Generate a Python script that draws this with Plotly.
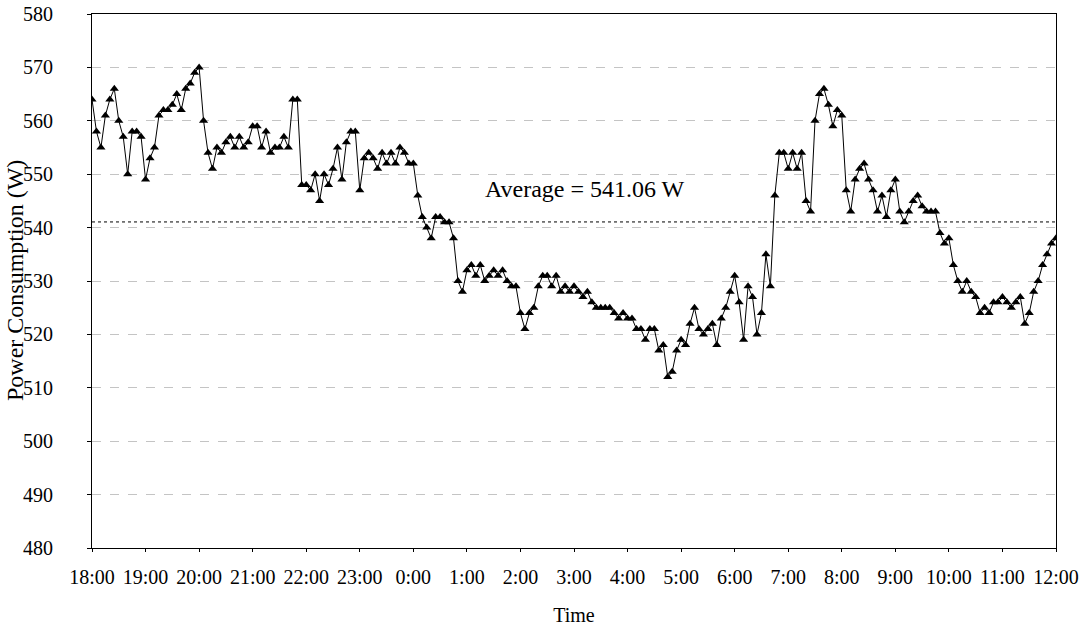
import plotly.graph_objects as go

# ---- data (5-minute readings, 18:00 -> 12:00) ----
time_labels = ["18:00", "19:00", "20:00", "21:00", "22:00", "23:00", "0:00",
               "1:00", "2:00", "3:00", "4:00", "5:00", "6:00", "7:00", "8:00",
               "9:00", "10:00", "11:00", "12:00"]

power_w = [
    564, 558, 555, 561, 564, 566, 560, 557, 550, 558, 558, 557, 549, 553, 555, 561,
    562, 562, 563, 565, 562, 566, 567, 569, 570,
    560, 554, 551, 555, 554, 556, 557, 555, 557, 555, 556, 559, 559, 555, 558, 554,
    555, 555, 557, 555, 564, 564, 548,
    548, 547, 550, 545, 550, 548, 551, 555, 549, 556, 558, 558, 547, 553, 554, 553,
    551, 554, 552, 554, 552, 555,
    554, 552, 552, 546, 542, 540, 538, 542, 542, 541, 541, 538, 530, 528, 532, 533,
    531, 533, 530, 531, 532, 531, 532, 530,
    529, 529, 524, 521, 524, 525, 529, 531, 531, 529, 531, 528, 529, 528, 529, 528,
    527, 528, 526, 525, 525, 525, 525, 524,
    523, 524, 523, 523, 521, 521, 519, 521, 521, 517, 518, 512, 513, 517, 519, 518,
    522, 525, 521, 520, 521, 522, 518, 523,
    525, 528, 531, 526, 519, 529, 527, 520, 524, 535, 529, 546, 554, 554, 551, 554,
    551, 554, 545, 543, 560, 565, 566, 563, 559, 562, 561,
    547, 543, 549, 551, 552, 549, 547, 543, 546, 542, 547, 549, 543, 541, 543, 545,
    546, 544, 543, 543,
    543, 539, 537, 538, 533, 530, 528, 530, 528, 527, 524, 525, 524, 526, 526, 527,
    526, 525, 526, 527, 522, 524, 528, 530, 533, 535, 537, 538,
]

interval_minutes = 5
average_w = 541.06
y_ticks = [480, 490, 500, 510, 520, 530, 540, 550, 560, 570, 580]

x_hours = [i * interval_minutes / 60 for i in range(len(power_w))]
hour_ticks = list(range(len(time_labels)))

FONT = "Liberation Serif, Times New Roman, serif"

fig = go.Figure()
fig.add_trace(go.Scatter(
    x=x_hours, y=power_w, mode="lines+markers",
    line=dict(color="black", width=1),
    marker=dict(symbol="triangle-up", size=8, color="black"),
    showlegend=False,
))

# average line
fig.add_shape(type="line", xref="paper", x0=0, x1=1, yref="y",
              y0=average_w, y1=average_w,
              line=dict(color="black", width=1, dash="dot"))
fig.add_annotation(x=9.2, y=547.3, xref="x", yref="y",
                   text=f"Average = {average_w:.2f} W", showarrow=False,
                   font=dict(family=FONT, size=24, color="black"))

# y-axis title placed as rotated text
fig.add_annotation(x=-77 / 964, y=0.5, xref="paper", yref="paper",
                   xanchor="center", yanchor="middle", textangle=-90,
                   text="Power Consumption (W)", showarrow=False,
                   font=dict(family=FONT, size=24, color="black"))

fig.update_layout(
    width=1079, height=632,
    margin=dict(l=92, r=23, t=14, b=84),
    paper_bgcolor="white", plot_bgcolor="white",
    font=dict(family=FONT, size=20, color="black"),
)
fig.update_xaxes(
    range=[0, len(time_labels) - 1], tickvals=hour_ticks, ticktext=time_labels,
    showline=True, linecolor="black", linewidth=1, mirror=True,
    ticks="outside", ticklen=3, tickcolor="black",
    showgrid=False, zeroline=False, ticklabelstandoff=8, automargin=False,
    tickfont=dict(family=FONT, size=20),
    title=dict(text="Time", font=dict(family=FONT, size=20), standoff=20),
)
fig.update_yaxes(
    range=[480, 580], tickvals=y_ticks,
    showline=True, linecolor="black", linewidth=1, mirror=True,
    ticks="outside", ticklen=4, tickcolor="black",
    showgrid=True, gridcolor="#c4c4c4", gridwidth=1, griddash="dash",
    zeroline=False, ticklabelstandoff=30, automargin=False,
    tickfont=dict(family=FONT, size=20),
)

fig.write_html("out.html")
